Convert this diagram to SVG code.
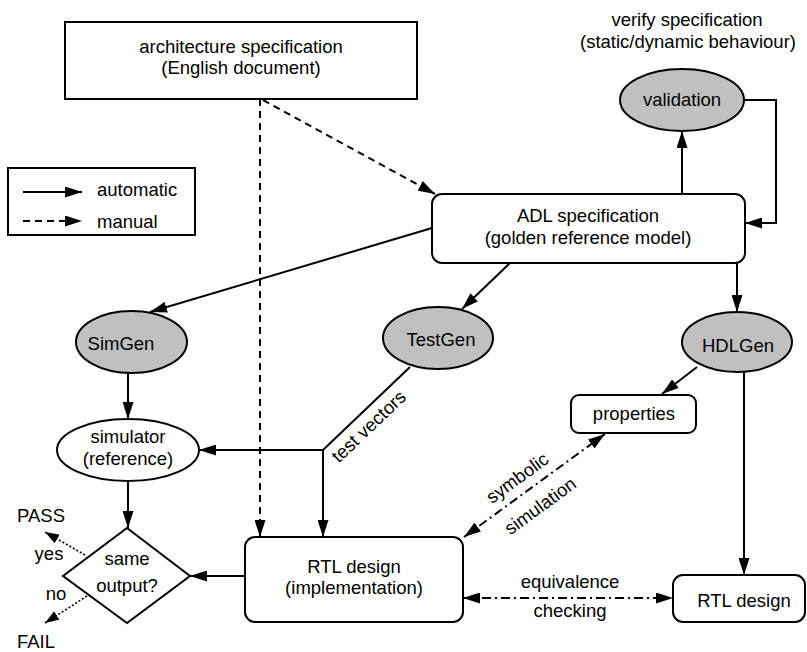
<svg xmlns="http://www.w3.org/2000/svg" width="807" height="652" viewBox="0 0 807 652">
  <style>
    text { font-family: "Liberation Sans", Arial, sans-serif; font-size: 18.5px; fill: #000; }
    .c { text-anchor: middle; }
    .box { fill: #fff; stroke: #000; stroke-width: 2; }
    .tool { fill: #c0c0c0; stroke: #000; stroke-width: 2; }
    .auto { fill: none; stroke: #000; stroke-width: 2; }
    .manual { fill: none; stroke: #000; stroke-width: 2; stroke-dasharray: 7 5; }
    .formal { fill: none; stroke: #000; stroke-width: 2; stroke-dasharray: 9 4 2 4; }
    .result { fill: none; stroke: #000; stroke-width: 1.6; stroke-dasharray: 2 2; }
  </style>
  <defs>
    <marker id="arr" viewBox="0 0 17 11" refX="17" refY="5.5" markerWidth="17" markerHeight="11" markerUnits="userSpaceOnUse" orient="auto-start-reverse">
      <path d="M0,0 L17,5.5 L0,11 z" fill="#000"/>
    </marker>
    <marker id="arrS" viewBox="0 0 14 10" refX="14" refY="5" markerWidth="14" markerHeight="10" markerUnits="userSpaceOnUse" orient="auto">
      <path d="M0,0 L14,5 L0,10 z" fill="#000"/>
    </marker>
  </defs>

  <rect width="807" height="652" fill="#fff"/>

  <!-- legend -->
  <g id="legend">
    <rect class="box" x="8" y="168" width="187" height="67"/>
    <line class="auto" x1="23" y1="192" x2="82" y2="192" marker-end="url(#arr)"/>
    <line class="manual" x1="23" y1="221" x2="82" y2="221" marker-end="url(#arr)"/>
    <text x="97" y="196">automatic</text>
    <text x="97" y="228">manual</text>
  </g>

  <!-- connectors -->
  <g id="connectors">
    <line class="manual" x1="260" y1="99" x2="260" y2="537" marker-end="url(#arr)"/>
    <line class="manual" x1="263" y1="100" x2="435" y2="194" marker-end="url(#arr)"/>
    <line class="auto" x1="682" y1="194" x2="682" y2="131" marker-end="url(#arr)"/>
    <polyline class="auto" points="744,100 776,100 776,223 745,223" marker-end="url(#arr)"/>
    <line class="auto" x1="432" y1="228" x2="150" y2="312" marker-end="url(#arr)"/>
    <line class="auto" x1="510" y1="263" x2="462" y2="309" marker-end="url(#arr)"/>
    <line class="auto" x1="737" y1="263" x2="737" y2="312" marker-end="url(#arr)"/>
    <line class="auto" x1="697" y1="367" x2="662" y2="394" marker-end="url(#arr)"/>
    <line class="auto" x1="744" y1="372" x2="744" y2="575" marker-end="url(#arr)"/>
    <line class="auto" x1="128" y1="373" x2="128" y2="419" marker-end="url(#arr)"/>
    <line class="auto" x1="128" y1="482" x2="128" y2="528" marker-end="url(#arr)"/>
    <polyline class="auto" points="410,367 323,450 199,450" marker-end="url(#arr)"/>
    <line class="auto" x1="323" y1="450" x2="323" y2="537" marker-end="url(#arr)"/>
    <line class="auto" x1="245" y1="576" x2="190" y2="576" marker-end="url(#arr)"/>
    <line class="result" x1="85" y1="555" x2="45" y2="532" marker-end="url(#arrS)"/>
    <line class="result" x1="87" y1="596" x2="45" y2="623" marker-end="url(#arrS)"/>
    <line class="formal" x1="464" y1="537" x2="605" y2="434" marker-start="url(#arr)" marker-end="url(#arr)"/>
    <line class="formal" x1="463" y1="598" x2="673" y2="598" marker-start="url(#arr)" marker-end="url(#arr)"/>
    <text class="c" transform="translate(373,431) rotate(-43.6)">test vectors</text>
    <text class="c" transform="translate(521,483) rotate(-36.1)">symbolic</text>
    <text class="c" transform="translate(544,511) rotate(-36.1)">simulation</text>
    <text class="c" x="570" y="588">equivalence</text>
    <text class="c" x="570" y="617">checking</text>
  </g>

  <g id="arch-spec">
    <rect class="box" x="65" y="22" width="352" height="77"/>
    <text class="c" x="241" y="53">architecture specification</text>
    <text class="c" x="241" y="74">(English document)</text>
  </g>

  <g id="verify-note">
    <text class="c" x="687" y="26">verify specification</text>
    <text class="c" x="688" y="48">(static/dynamic behaviour)</text>
  </g>

  <g id="validation">
    <ellipse class="tool" cx="682" cy="100" rx="62" ry="31"/>
    <text class="c" x="682" y="106">validation</text>
  </g>

  <g id="adl-spec">
    <rect class="box" x="432" y="194" width="313" height="69" rx="10"/>
    <text class="c" x="588" y="222">ADL specification</text>
    <text class="c" x="588" y="244">(golden reference model)</text>
  </g>

  <g id="simgen">
    <ellipse class="tool" cx="131.5" cy="342" rx="55.5" ry="31"/>
    <text class="c" x="121" y="350">SimGen</text>
  </g>

  <g id="testgen">
    <ellipse class="tool" cx="438" cy="338" rx="55" ry="31"/>
    <text class="c" x="441" y="346">TestGen</text>
  </g>

  <g id="hdlgen">
    <ellipse class="tool" cx="737" cy="342" rx="55" ry="30"/>
    <text class="c" x="738" y="352">HDLGen</text>
  </g>

  <g id="properties">
    <rect class="box" x="571" y="395" width="125" height="38" rx="8"/>
    <text class="c" x="634" y="420">properties</text>
  </g>

  <g id="simulator">
    <ellipse class="box" cx="128" cy="450" rx="71" ry="31"/>
    <text class="c" x="128" y="443">simulator</text>
    <text class="c" x="128" y="465">(reference)</text>
  </g>

  <g id="compare">
    <polygon class="box" points="127,528 190,576 127,623 63,576"/>
    <text class="c" x="127" y="565">same</text>
    <text class="c" x="127" y="592">output?</text>
    <text x="17" y="522">PASS</text>
    <text class="c" x="49" y="560">yes</text>
    <text class="c" x="56" y="600">no</text>
    <text x="17" y="648">FAIL</text>
  </g>

  <g id="rtl-impl">
    <rect class="box" x="245" y="537" width="218" height="85" rx="10"/>
    <text class="c" x="354" y="573">RTL design</text>
    <text class="c" x="354" y="594">(implementation)</text>
  </g>

  <g id="rtl-generated">
    <rect class="box" x="673" y="575" width="132" height="47" rx="10"/>
    <text class="c" x="744" y="607">RTL design</text>
  </g>
</svg>
